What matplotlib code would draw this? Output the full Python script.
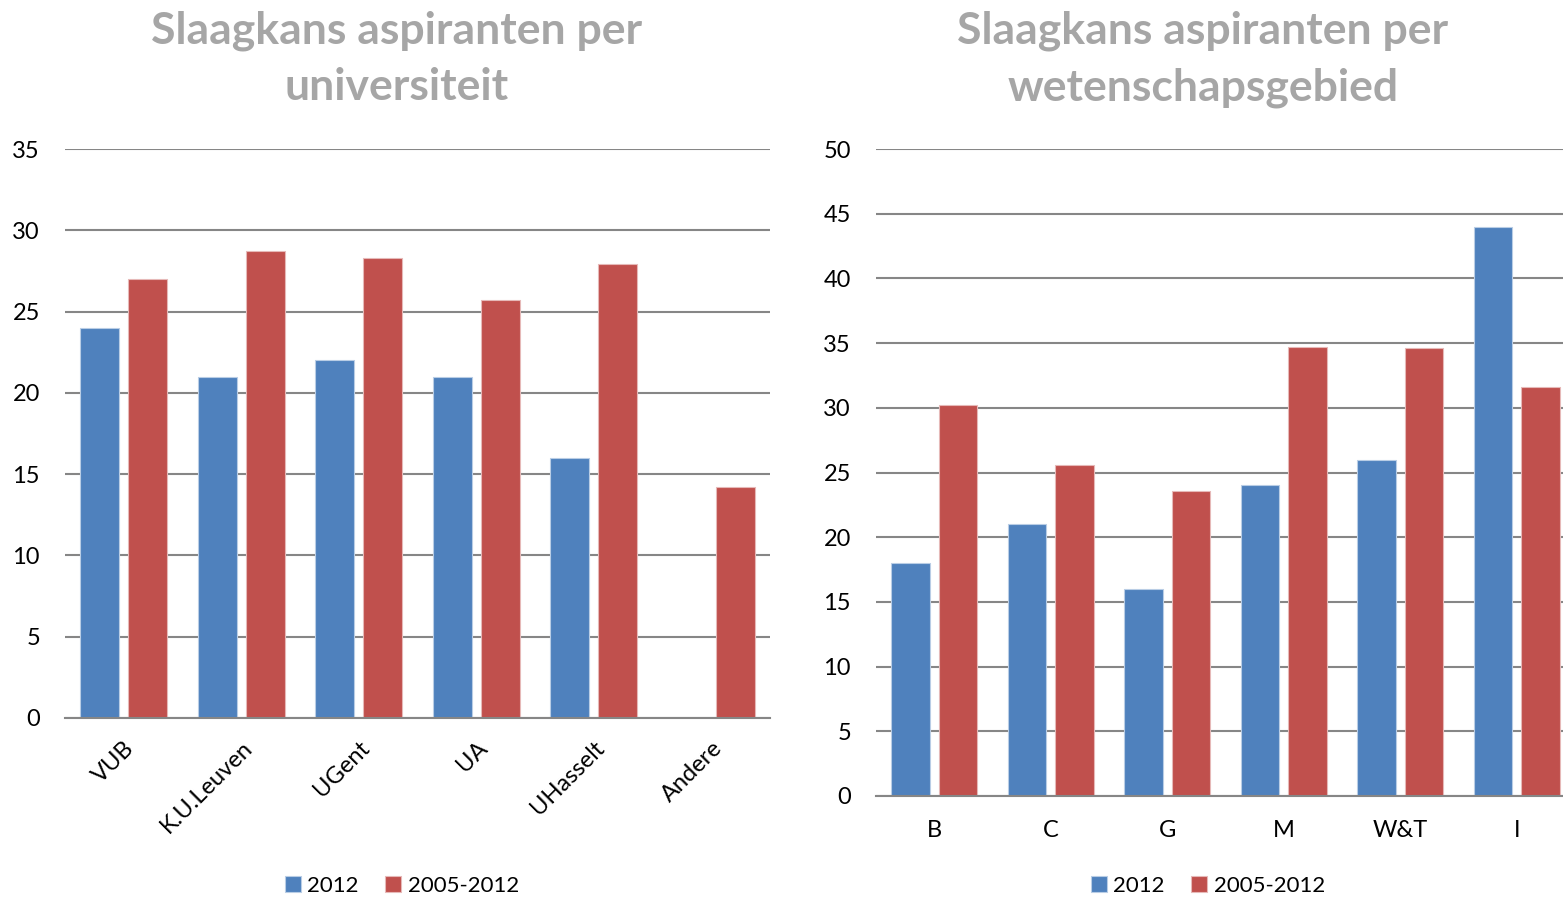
import numpy as np
import matplotlib.pyplot as plt

plt.rcParams['font.family'] = ['Lato', 'DejaVu Sans']

# Data
universiteiten = ["VUB", "K.U.Leuven", "UGent", "UA", "UHasselt", "Andere"]
uni_2012 = [24, 21, 22, 21, 16, np.nan]
uni_2005_2012 = [27, 28.7, 28.3, 25.7, 27.9, 14.2]

gebieden = ["B", "C", "G", "M", "W&T", "I"]
geb_2012 = [18, 21, 16, 24, 26, 44]
geb_2005_2012 = [30.2, 25.6, 23.6, 34.7, 34.6, 31.6]

blauw = "#4F81BD"
rood = "#C0504D"
grijs = "#A6A6A6"

W, H = 1563, 899
fig = plt.figure(figsize=(W / 100, H / 100), dpi=100)

def px_axes(x0, y0, x1, y1):
    return fig.add_axes([x0 / W, 1 - y1 / H, (x1 - x0) / W, (y1 - y0) / H])

def staaf(ax, cats, s1, s2, ymax, step):
    x = np.arange(len(cats))
    w = 0.33
    ax.bar(x - 0.205, s1, w, color=blauw, edgecolor="#B9CDE5", linewidth=0.8, label="2012", zorder=3)
    ax.bar(x + 0.205, s2, w, color=rood, edgecolor="#E6B9B8", linewidth=0.8, label="2005-2012", zorder=3)
    ax.set_xlim(-0.5, len(cats) - 0.5)
    ax.set_ylim(0, ymax)
    ax.set_yticks(np.arange(0, ymax + 1, step))
    ax.grid(axis="y", color="#868686", linewidth=1.5, zorder=0)
    for s in ["top", "right", "left"]:
        ax.spines[s].set_visible(False)
    ax.spines["bottom"].set_color("#868686")
    ax.spines["bottom"].set_linewidth(1.5)
    ax.spines["bottom"].set_zorder(4)
    ax.tick_params(axis="y", length=0, labelsize=17, pad=18)
    ax.tick_params(axis="x", length=0, labelsize=17)
    ax.set_xticks(x)
    return x

# Links: per universiteit
ax1 = px_axes(65, 149, 770, 718)
staaf(ax1, universiteiten, uni_2012, uni_2005_2012, 35, 5)
ax1.set_xticklabels(universiteiten, rotation=45, ha="right", va="top",
                    rotation_mode="anchor")
ax1.tick_params(axis="x", pad=14)
fig.text(397 / W, 1 - 59 / H, "Slaagkans aspiranten per\nuniversiteit",
         ha="center", va="center", fontsize=32, fontweight="bold",
         color=grijs, linespacing=1.5)
ax1.legend(loc="center", bbox_to_anchor=(402 / W, 1 - 886 / H), bbox_transform=fig.transFigure,
           ncol=2, frameon=False, fontsize=16, handlelength=0.7, handleheight=0.7,
           handletextpad=0.3, columnspacing=1.2)

# Rechts: per wetenschapsgebied
ax2 = px_axes(876, 149, 1575, 796)
staaf(ax2, gebieden, geb_2012, geb_2005_2012, 50, 5)
ax2.set_xticklabels(gebieden)
ax2.tick_params(axis="x", pad=17)
fig.text(1203 / W, 1 - 59 / H, "Slaagkans aspiranten per\nwetenschapsgebied",
         ha="center", va="center", fontsize=32, fontweight="bold",
         color=grijs, linespacing=1.5)
ax2.legend(loc="center", bbox_to_anchor=(1208 / W, 1 - 886 / H), bbox_transform=fig.transFigure,
           ncol=2, frameon=False, fontsize=16, handlelength=0.7, handleheight=0.7,
           handletextpad=0.3, columnspacing=1.2)

fig.savefig("out.png", dpi=100)
